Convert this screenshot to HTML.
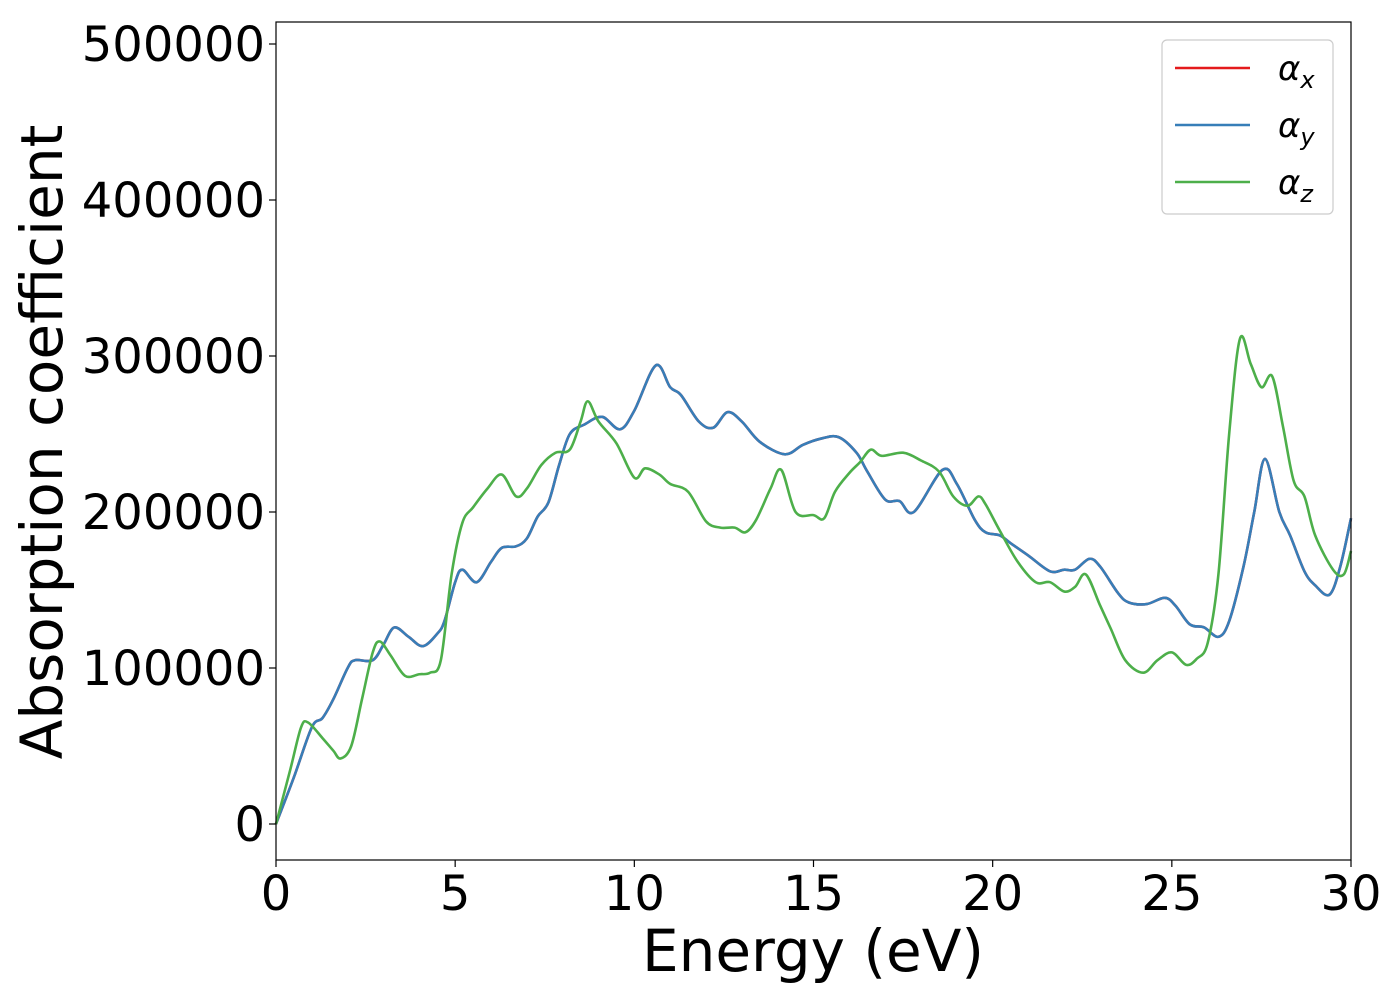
<!DOCTYPE html>
<html><head><meta charset="utf-8"><style>
body{margin:0;background:#fff}
svg{display:block;font-family:"DejaVu Sans","Liberation Sans",sans-serif}
</style></head><body>
<svg id="chart" width="1400" height="1000">
<rect x="0" y="0" width="1400" height="1000" fill="#fff"/>
<g id="marks"></g>
<g id="axes"></g>
</svg>
<script>
const energyB=[0,0.5,1.0,1.3,1.6,2.0,2.2,2.7,3.0,3.3,3.7,4.1,4.5,4.7,5.0,5.2,5.6,6.0,6.3,6.7,7.0,7.3,7.6,7.9,8.2,8.6,9.1,9.6,10.0,10.6,11.0,11.3,11.8,12.2,12.6,13.0,13.5,14.2,14.7,15.2,15.7,16.2,16.5,17.0,17.4,17.8,18.6,19.0,19.5,19.8,20.2,20.5,21.0,21.6,22.0,22.3,22.7,23.0,23.5,23.8,24.3,24.8,25.1,25.5,25.9,26.3,26.6,27.0,27.3,27.6,28.0,28.3,28.7,29.0,29.4,29.7,30.0];
const alphaXY=[0,30,62,68,80,100,105,105,115,126,120,114,122,130,155,163,155,168,177,178,183,197,206,230,250,256,261,253,265,294,280,275,258,254,264,258,245,237,243,247,248,238,226,208,207,200,227,218,195,187,185,180,172,162,163,163,170,165,148,142,141,145,140,128,126,120,130,165,200,234,200,185,162,153,147,165,196];
const energyZ=[0,0.4,0.7,0.9,1.3,1.6,1.8,2.1,2.4,2.7,2.9,3.2,3.6,4.0,4.3,4.6,4.9,5.2,5.5,5.9,6.3,6.7,7.0,7.4,7.8,8.2,8.5,8.7,9.0,9.5,10.0,10.3,10.7,11.0,11.5,12.0,12.4,12.8,13.1,13.4,13.8,14.1,14.5,15.0,15.3,15.6,16.0,16.3,16.6,16.9,17.5,18.0,18.5,18.9,19.3,19.6,19.8,20.2,20.7,21.2,21.6,22.0,22.3,22.6,23.0,23.3,23.7,24.2,24.6,25.0,25.4,25.7,26.0,26.3,26.6,26.9,27.2,27.5,27.8,28.1,28.4,28.7,29.0,29.5,29.8,30.0];
const alphaZ=[0,35,62,65,55,47,42,50,80,110,117,108,95,96,97,105,160,193,203,215,224,210,215,230,238,240,258,271,258,244,222,228,224,218,213,194,190,190,187,195,215,227,200,198,196,213,225,232,240,236,238,233,226,210,204,210,205,188,168,155,155,149,152,160,140,125,105,97,105,110,102,106,116,160,250,311,295,280,287,255,220,210,185,163,160,175];
const xTicks=[0,5,10,15,20,25,30];
const yTicks=[0,100000,200000,300000,400000,500000];
const L=276,R=1351,T=22,B=860;
const sx=e=>L+(e-0)/30*(R-L);
const sy=v=>824-v/100000*156;
const NS="http://www.w3.org/2000/svg";
function mk(tag,attrs,parent){const el=document.createElementNS(NS,tag);for(const k in attrs)el.setAttribute(k,attrs[k]);parent.appendChild(el);return el;}
function pathFor(xs,ys){
  const p=xs.map((e,i)=>[sx(e),sy(ys[i]*1000)]);
  let d="M"+p[0][0]+","+p[0][1];
  for(let i=0;i<p.length-1;i++){
    const p0=p[Math.max(0,i-1)],p1=p[i],p2=p[i+1],p3=p[Math.min(p.length-1,i+2)];
    const c1=[p1[0]+(p2[0]-p0[0])/6,p1[1]+(p2[1]-p0[1])/6];
    const c2=[p2[0]-(p3[0]-p1[0])/6,p2[1]-(p3[1]-p1[1])/6];
    d+=" C"+c1+" "+c2+" "+p2;
  }
  return d;
}
const marks=document.getElementById('marks');
const axes=document.getElementById('axes');
const lx=mk('path',{d:pathFor(energyB,alphaXY),fill:'none',stroke:'#e41a1c','stroke-width':2.6},marks);


const ly=mk('path',{d:pathFor(energyB,alphaXY),fill:'none',stroke:'#377eb8','stroke-width':2.6},marks);


const lz=mk('path',{d:pathFor(energyZ,alphaZ),fill:'none',stroke:'#4daf4a','stroke-width':2.6},marks);


const frame=mk('rect',{x:L,y:T,width:R-L,height:B-T,fill:'none',stroke:'#000','stroke-width':1.2},axes);


xTicks.forEach(t=>{
  mk('line',{x1:sx(t),x2:sx(t),y1:B,y2:B+7,stroke:'#000','stroke-width':1.2},axes);
  const tx=mk('text',{x:sx(t),y:B+50,'font-size':48,'text-anchor':'middle',fill:'#000'},axes);
  tx.textContent=t;
  
  
});
yTicks.forEach(t=>{
  mk('line',{x1:L-7,x2:L,y1:sy(t),y2:sy(t),stroke:'#000','stroke-width':1.2},axes);
  const tx=mk('text',{x:L-11,y:sy(t)+17,'font-size':48,'text-anchor':'end',fill:'#000'},axes);
  tx.textContent=t;
  
  
});
</script>
<svg style="position:absolute;left:0;top:0" width="1400" height="1000">
<text x="813" y="971" font-size="58" text-anchor="middle" font-family="DejaVu Sans, Liberation Sans, sans-serif">Energy (eV)</text>
<text transform="translate(62,442) rotate(-90)" font-size="58" text-anchor="middle" font-family="DejaVu Sans, Liberation Sans, sans-serif">Absorption coefficient</text>
<g>
<rect x="1162" y="40" width="171" height="174" rx="5" fill="#fff" fill-opacity="0.8" stroke="#ccc" stroke-width="1.2"/>
<line x1="1175" y1="68" x2="1250" y2="68" stroke="#e41a1c" stroke-width="2.6"/>
<text x="1278" y="80" font-size="34" font-style="italic" font-family="DejaVu Sans, sans-serif">α<tspan font-size="24" dy="8">x</tspan></text>
<line x1="1175" y1="125" x2="1250" y2="125" stroke="#377eb8" stroke-width="2.6"/>
<text x="1278" y="137" font-size="34" font-style="italic" font-family="DejaVu Sans, sans-serif">α<tspan font-size="24" dy="8">y</tspan></text>
<line x1="1175" y1="182" x2="1250" y2="182" stroke="#4daf4a" stroke-width="2.6"/>
<text x="1278" y="194" font-size="34" font-style="italic" font-family="DejaVu Sans, sans-serif">α<tspan font-size="24" dy="8">z</tspan></text>
</g>
</svg>
</body></html>
